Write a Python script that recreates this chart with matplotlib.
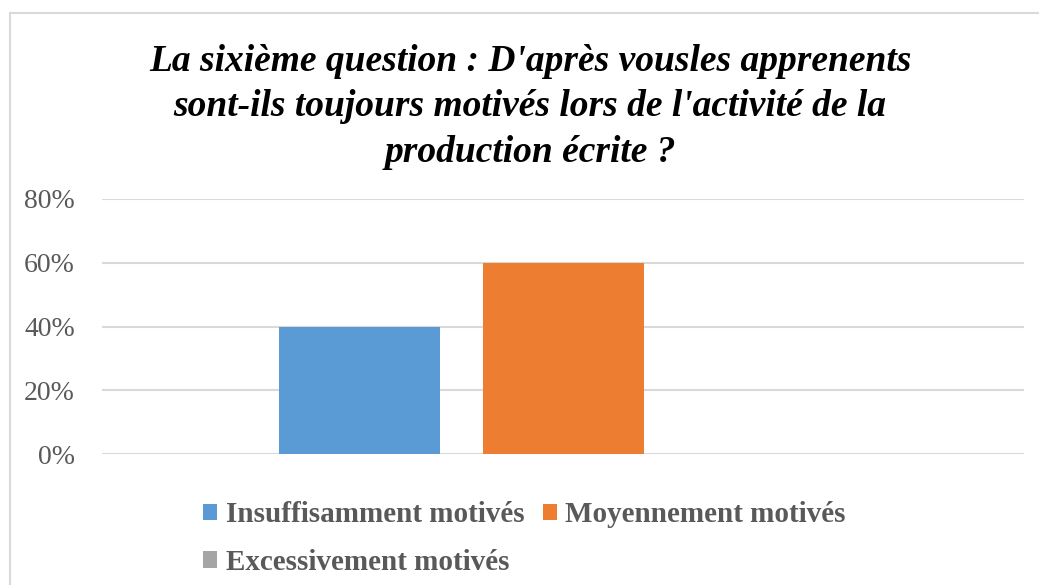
import matplotlib.pyplot as plt
from matplotlib.patches import Rectangle
from matplotlib.ticker import PercentFormatter

title = "La sixième question : D'après vousles apprenents\nsont-ils toujours motivés lors de l'activité de la\nproduction écrite ?"
series = ["Insuffisamment motivés", "Moyennement motivés", "Excessivement motivés"]
values = [0.40, 0.60, 0.0]
colors = ["#5b9bd5", "#ed7d31", "#a5a5a5"]
yticks = [0, 0.2, 0.4, 0.6, 0.8]

W, H = 1039, 585
fig = plt.figure(figsize=(W / 100, H / 100), dpi=100)
fig.patch.set_facecolor("white")

# chart area border (cut on right/bottom like the screenshot)
fig.patches.append(Rectangle((10 / W, -0.1), 1.2, (H - 13) / H + 0.1, transform=fig.transFigure,
                             fill=False, edgecolor="#d9d9d9", linewidth=1.5))

ax = fig.add_axes([102 / W, 1 - 454 / H, (1024 - 102) / W, (454 - 199) / H])

axw = 1024 - 102
bw = 161 / axw
step = 204 / axw
bars = []
for i, (name, v, c) in enumerate(zip(series, values, colors)):
    b = ax.bar((i - 1) * step, v, width=bw, color=c, label=name, zorder=3)
    bars.append(b)

ax.set_xlim(-0.5, 0.5)
ax.set_ylim(0, 0.8)
ax.set_yticks(yticks)
ax.yaxis.set_major_formatter(PercentFormatter(1.0, decimals=0))
ax.set_xticks([])
ax.grid(axis="y", color="#d9d9d9", linewidth=1.5, zorder=0)
for s in ax.spines.values():
    s.set_visible(False)
ax.tick_params(axis="y", length=0, pad=19.5, labelsize=20, labelcolor="#595959")
for lbl in ax.get_yticklabels():
    lbl.set_family("Liberation Serif")

fig.text(530 / W, 1 - 107 / H, title, ha="center", va="center", fontsize=27,
         family="Liberation Serif", weight="bold", style="italic", linespacing=1.4)

handles = [bars[0], bars[2], bars[1]]
labels = [series[0], series[2], series[1]]
leg = fig.legend(handles, labels, ncol=2, loc="upper left", bbox_to_anchor=(183 / W, 1 - 481 / H),
                 frameon=False, handlelength=0.48, handleheight=0.48, handletextpad=0.28,
                 columnspacing=0.65, labelspacing=0.7, borderpad=0.2,
                 prop={"family": "Liberation Serif", "weight": "bold", "size": 21})
for t in leg.get_texts():
    t.set_color("#595959")

fig.savefig("out.png", dpi=100)
